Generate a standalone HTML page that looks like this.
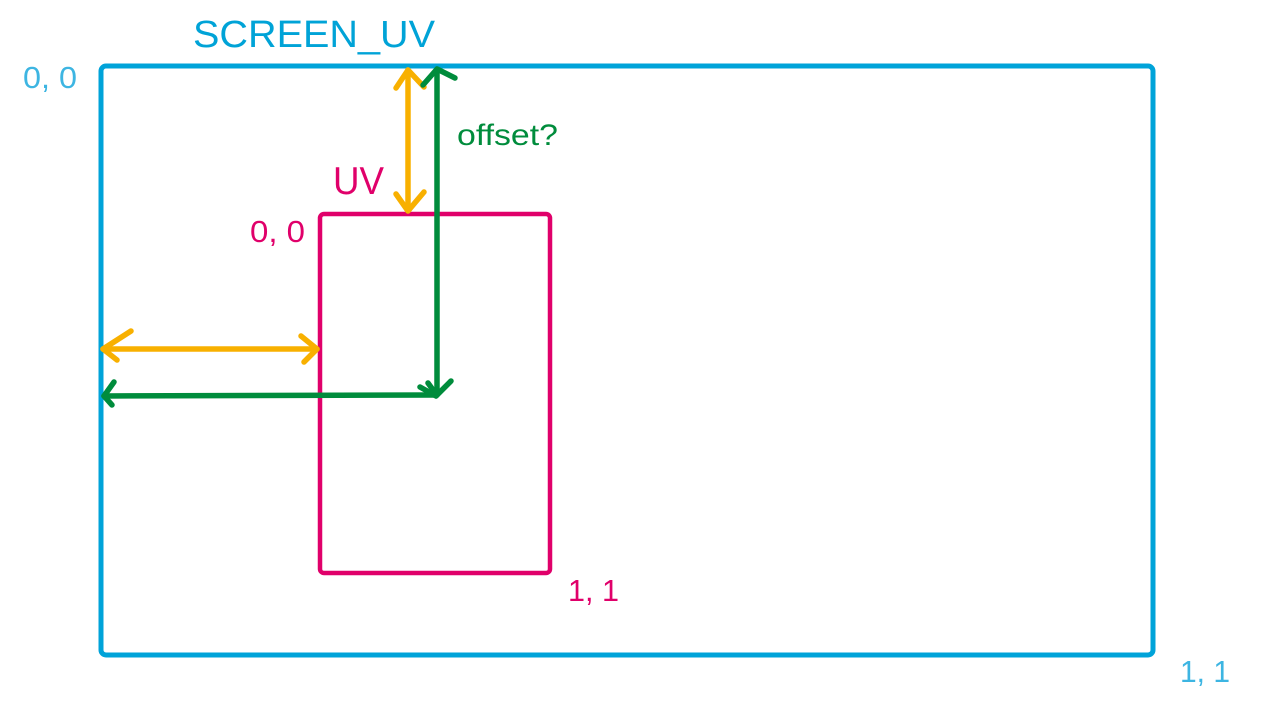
<!DOCTYPE html>
<html>
<head>
<meta charset="utf-8">
<style>
  html, body { margin: 0; padding: 0; background: #ffffff; }
  body { width: 1265px; height: 718px; overflow: hidden; }
  svg { display: block; }
  text { font-family: "Liberation Sans", Arial, sans-serif; }
</style>
</head>
<body>
<svg width="1265" height="718" viewBox="0 0 1265 718" xmlns="http://www.w3.org/2000/svg">
  <rect x="0" y="0" width="1265" height="718" fill="#ffffff"/>

  <!-- Labels -->
  <text x="193" y="47" font-size="38" fill="#00a3d7" textLength="242" lengthAdjust="spacingAndGlyphs">SCREEN_UV</text>
  <text x="23" y="88" font-size="31" fill="#3db5e2" textLength="54" lengthAdjust="spacingAndGlyphs">0, 0</text>
  <text x="333" y="194" font-size="39" fill="#e0006a" textLength="51" lengthAdjust="spacingAndGlyphs">UV</text>
  <text x="250" y="242" font-size="31" fill="#e0006a" textLength="55" lengthAdjust="spacingAndGlyphs">0, 0</text>
  <text x="457" y="145" font-size="30" fill="#008c3c" textLength="101" lengthAdjust="spacingAndGlyphs">offset?</text>
  <text x="568" y="601" font-size="31" fill="#e0006a" textLength="51" lengthAdjust="spacingAndGlyphs">1, 1</text>
  <text x="1180" y="682" font-size="31" fill="#3db5e2" textLength="50" lengthAdjust="spacingAndGlyphs">1, 1</text>

  <!-- Outer SCREEN_UV rectangle -->
  <rect x="101" y="66" width="1052" height="589" rx="5" ry="5" fill="none" stroke="#00a3d9" stroke-width="5"/>

  <!-- Inner UV rectangle -->
  <rect x="320" y="214" width="230" height="359" rx="4" ry="4" fill="none" stroke="#e0006a" stroke-width="4.5"/>

  <!-- Orange vertical double arrow -->
  <g fill="none" stroke="#f8b000" stroke-width="5.5" stroke-linecap="round" stroke-linejoin="round">
    <line x1="408" y1="70" x2="408" y2="210"/>
    <polyline points="396,88 408,70 424,87"/>
    <polyline points="396,194 408,211 424,192"/>
  </g>

  <!-- Orange horizontal double arrow -->
  <g fill="none" stroke="#f8b000" stroke-width="5.5" stroke-linecap="round" stroke-linejoin="round">
    <line x1="103" y1="349" x2="317" y2="349"/>
    <polyline points="131,331 103,349 117,360"/>
    <polyline points="301,336 317,349 304,362"/>
  </g>

  <!-- Green vertical arrow -->
  <g fill="none" stroke="#008c3c" stroke-width="5.5" stroke-linecap="round" stroke-linejoin="round">
    <line x1="437" y1="70" x2="437" y2="395"/>
    <polyline points="423,85 437,69 455,78"/>
    <polyline points="420,387 436,396 451,381"/>
    <line x1="428" y1="383" x2="436" y2="394"/>
  </g>

  <!-- Green horizontal arrow -->
  <g fill="none" stroke="#008c3c" stroke-width="5.5" stroke-linecap="round" stroke-linejoin="round">
    <line x1="104" y1="396" x2="436" y2="395"/>
    <polyline points="114,382 104,396 112,405"/>
  </g>
</svg>
</body>
</html>
